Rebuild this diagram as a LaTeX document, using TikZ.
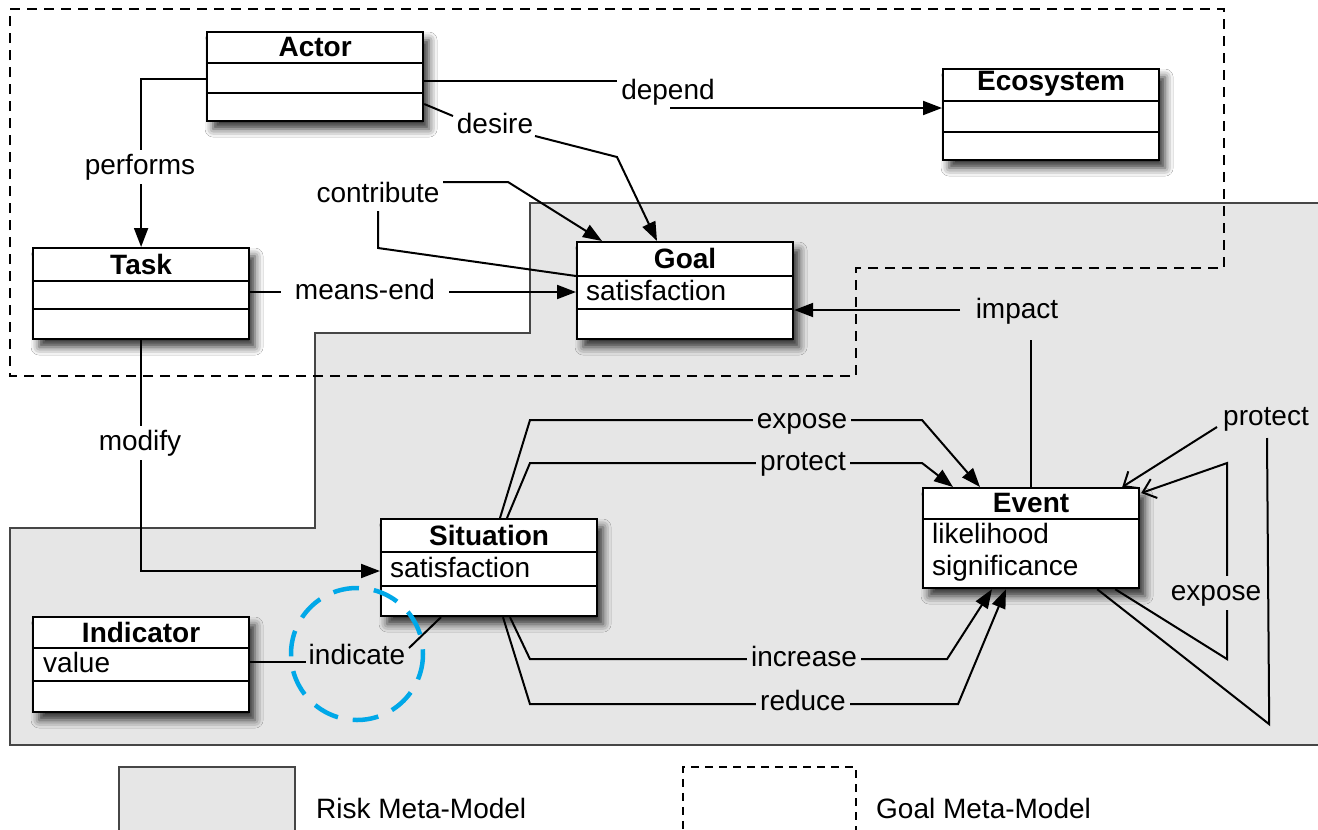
\documentclass[tikz,border=0pt]{standalone}
\usepackage{fontspec}
\setmainfont{Liberation Sans}
\usetikzlibrary{calc,arrows.meta,shadows.blur}
\definecolor{riskgray}{RGB}{230,230,230}
\definecolor{edgegray}{RGB}{70,70,70}
\definecolor{markblue}{RGB}{0,168,232}
\begin{document}
\begin{tikzpicture}[x=1pt,y=-1pt, font=\fontsize{28}{32}\selectfont,
  classbox/.style={draw=black, line width=2.2pt, fill=white, rectangle, inner sep=0pt,
     minimum width=216pt, anchor=north west,
     blur shadow={shadow xshift=6pt, shadow yshift=-8pt, shadow blur radius=8pt, shadow opacity=80}},
  ctitle/.style={font=\fontsize{28}{32}\selectfont\bfseries, inner sep=0pt},
  cattr/.style={anchor=west, inner sep=0pt, text height=20pt, text depth=6pt},
  divider/.style={line width=1.8pt},
  conn/.style={line width=2pt},
  arr/.style={conn, -{Triangle[length=19pt,width=14pt]}},
  oarr/.style={conn, -{Straight Barb[length=12pt,width=20pt]}},
  lbl/.style={inner xsep=4pt, inner ysep=4pt, text height=20pt, text depth=6pt},
  lw/.style={lbl, fill=white},
  lg/.style={lbl, fill=riskgray}]
\useasboundingbox (0,0) rectangle (1318,830);
\clip (0,0) rectangle (1318,830);
\fill[white] (0,0) rectangle (1318,830);

% Risk meta-model region
\draw[fill=riskgray, draw=edgegray, line width=2.2pt]
  (10,528) -- (315,528) -- (315,333) -- (530,333) -- (530,203) -- (1330,203)
  -- (1330,745) -- (10,745) -- cycle;
% Goal meta-model region
\draw[line width=2.2pt, dash pattern=on 10pt off 7pt]
  (10,9) -- (1224,9) -- (1224,268) -- (856,268) -- (856,376) -- (10,376) -- cycle;

% Classes
\node[classbox, minimum height=89pt] (actor) at (206,31) {};
\draw[divider] ($(actor.north west)+(0,32)$) -- ($(actor.north east)+(0,32)$);
\draw[divider] ($(actor.north west)+(0,62)$) -- ($(actor.north east)+(0,62)$);
\node[ctitle] (actor-t) at ($(actor.north)+(0,16)$) {Actor};

\node[classbox, minimum height=91pt] (eco) at (942,68) {};
\draw[divider] ($(eco.north west)+(0,33)$) -- ($(eco.north east)+(0,33)$);
\draw[divider] ($(eco.north west)+(0,64)$) -- ($(eco.north east)+(0,64)$);
\node[ctitle] (eco-t) at ($(eco.north)+(0,16)$) {Ecosystem};

\node[classbox, minimum height=91pt] (task) at (32,247) {};
\draw[divider] ($(task.north west)+(0,34)$) -- ($(task.north east)+(0,34)$);
\draw[divider] ($(task.north west)+(0,62)$) -- ($(task.north east)+(0,62)$);
\node[ctitle] (task-t) at ($(task.north)+(0,17)$) {Task};

\node[classbox, minimum height=97pt] (goal) at (576,241) {};
\draw[divider] ($(goal.north west)+(0,35)$) -- ($(goal.north east)+(0,35)$);
\draw[divider] ($(goal.north west)+(0,68)$) -- ($(goal.north east)+(0,68)$);
\node[ctitle] (goal-t) at ($(goal.north)+(0,17)$) {Goal};
\node[cattr] (goal-a) at ($(goal.north west)+(10,52)$) {satisfaction};

\node[classbox, minimum height=100pt] (event) at (922,487) {};
\draw[divider] ($(event.north west)+(0,32)$) -- ($(event.north east)+(0,32)$);
\node[ctitle] (event-t) at ($(event.north)+(0,16)$) {Event};
\node[cattr] (event-a) at ($(event.north west)+(10,49)$) {likelihood};
\node[cattr] (event-b) at ($(event.north west)+(10,81)$) {significance};

\node[classbox, minimum height=97pt] (sit) at (380,518) {};
\draw[divider] ($(sit.north west)+(0,34)$) -- ($(sit.north east)+(0,34)$);
\draw[divider] ($(sit.north west)+(0,68)$) -- ($(sit.north east)+(0,68)$);
\node[ctitle] (sit-t) at ($(sit.north)+(0,17)$) {Situation};
\node[cattr] (sit-a) at ($(sit.north west)+(10,52)$) {satisfaction};

\node[classbox, minimum height=95pt] (ind) at (32,616) {};
\draw[divider] ($(ind.north west)+(0,32)$) -- ($(ind.north east)+(0,32)$);
\draw[divider] ($(ind.north west)+(0,65)$) -- ($(ind.north east)+(0,65)$);
\node[ctitle] (ind-t) at ($(ind.north)+(0,16)$) {Indicator};
\node[cattr] (ind-a) at ($(ind.north west)+(11,49)$) {value};

% performs
\draw[arr] ($(actor.north west)+(0,48)$) -| (task.north);
\node[lw] (performs) at (140,167) {performs};

% depend
\node[lbl] (depend) at (668,92) {depend};
\draw[conn] ($(actor.north east)+(0,50)$) -- ($(depend)+(-51,-11)$);
\draw[arr] ($(depend)+(2,16)$) -- ($(eco.north west)+(0,40)$);

% desire
\node[lbl] (desire) at (495,126) {desire};
\draw[conn] ($(actor.north east)+(0,73)$) -- ($(desire)+(-42,-10)$);
\draw[arr] ($(desire)+(40,10)$) -- ($(desire)+(122,31)$) -- ($(goal.north west)+(81,0)$);

% contribute
\node[lbl] (contribute) at (378,195) {contribute};
\draw[conn] ($(goal.north west)+(0,35)$) -- ($(contribute)+(0,53)$) -- ($(contribute)+(0,16)$);
\draw[arr] ($(contribute)+(65,-13)$) -- ($(contribute)+(130,-13)$) -- ($(goal.north west)+(26,0)$);

% means-end
\draw[arr] ($(task.north east)+(0,45)$) -- ($(goal.north west)+(0,51)$);
\node[lw, inner xsep=14pt] (meansend) at (365,292) {means-end};

% impact
\node[lbl] (impact) at (1017,311) {impact};
\draw[conn] (event.north) -- ($(event.north)+(0,-147)$);
\draw[arr] ($(impact)+(-57,-1)$) -- ($(goal.north east)+(0,69)$);

% expose (top)
\draw[arr] ($(sit.north west)+(120,0)$) -- ($(sit.north west)+(150,-98)$)
  -- ($(event.north west)+(0,-67)$) -- ($(event.north west)+(58,0)$);
\node[lg] (exposeA) at (802,421) {expose};

% protect (top)
\draw[arr] ($(sit.north west)+(127,0)$) -- ($(sit.north west)+(150,-55)$)
  -- ($(event.north west)+(0,-24)$) -- ($(event.north west)+(31,0)$);
\node[lg] (protectA) at (803,463) {protect};

% increase
\draw[arr] ($(sit.south west)+(130,0)$) -- ($(sit.south west)+(150,42)$)
  -- ($(event.south west)+(25,70)$) -- ($(event.south west)+(70,0)$);
\node[lg] (increase) at (804,659) {increase};

% reduce
\draw[arr] ($(sit.south west)+(123,0)$) -- ($(sit.south west)+(150,87)$)
  -- ($(event.south west)+(36,115)$) -- ($(event.south west)+(84,0)$);
\node[lg] (reduce) at (803,703) {reduce};

% protect (right loop)
\node[lbl] (protectB) at (1266,418) {protect};
\draw[conn] ($(event.south east)+(-43,0)$) -- ($(event.south east)+(129,135)$) -- ($(protectB)+(1,20)$);
\draw[oarr] ($(protectB)+(-49,9)$) -- ($(event.north east)+(-18,0)$);

% expose (right loop)
\draw[oarr] ($(event.south east)+(-25,0)$) -- ($(event.south east)+(87,70)$)
  -- ($(event.north east)+(87,-24)$) -- ($(event.north east)+(1,6)$);
\node[lg] (exposeB) at (1216,593) {expose};

% modify
\draw[arr] (task.south) |- ($(sit.north west)+(0,53)$);
\node[lw] (modify) at (140,443) {modify};

% indicate
\node[lbl] (indicate) at (357,657) {indicate};
\draw[conn] ($(ind.north east)+(0,46)$) -- ($(indicate)+(-51,5)$);
\draw[conn] ($(indicate)+(52,-9)$) -- ($(sit.south west)+(61,0)$);
\draw[markblue, line width=4.5pt, dash pattern=on 26pt off 15pt] (357,654) circle[radius=66];

% Legend
\node[draw=edgegray, fill=riskgray, line width=1.8pt, minimum width=176pt, minimum height=90pt,
      anchor=north west, inner sep=0pt] (legrisk) at (118,766) {};
\node[anchor=west, inner sep=0pt] (legrisk-t) at (316,808) {Risk Meta-Model};
\node[draw=black, dash pattern=on 8pt off 6pt, line width=1.8pt, minimum width=173pt, minimum height=90pt,
      anchor=north west, inner sep=0pt] (leggoal) at (682,766) {};
\node[anchor=west, inner sep=0pt] (leggoal-t) at (876,808) {Goal Meta-Model};
\end{tikzpicture}
\end{document}
